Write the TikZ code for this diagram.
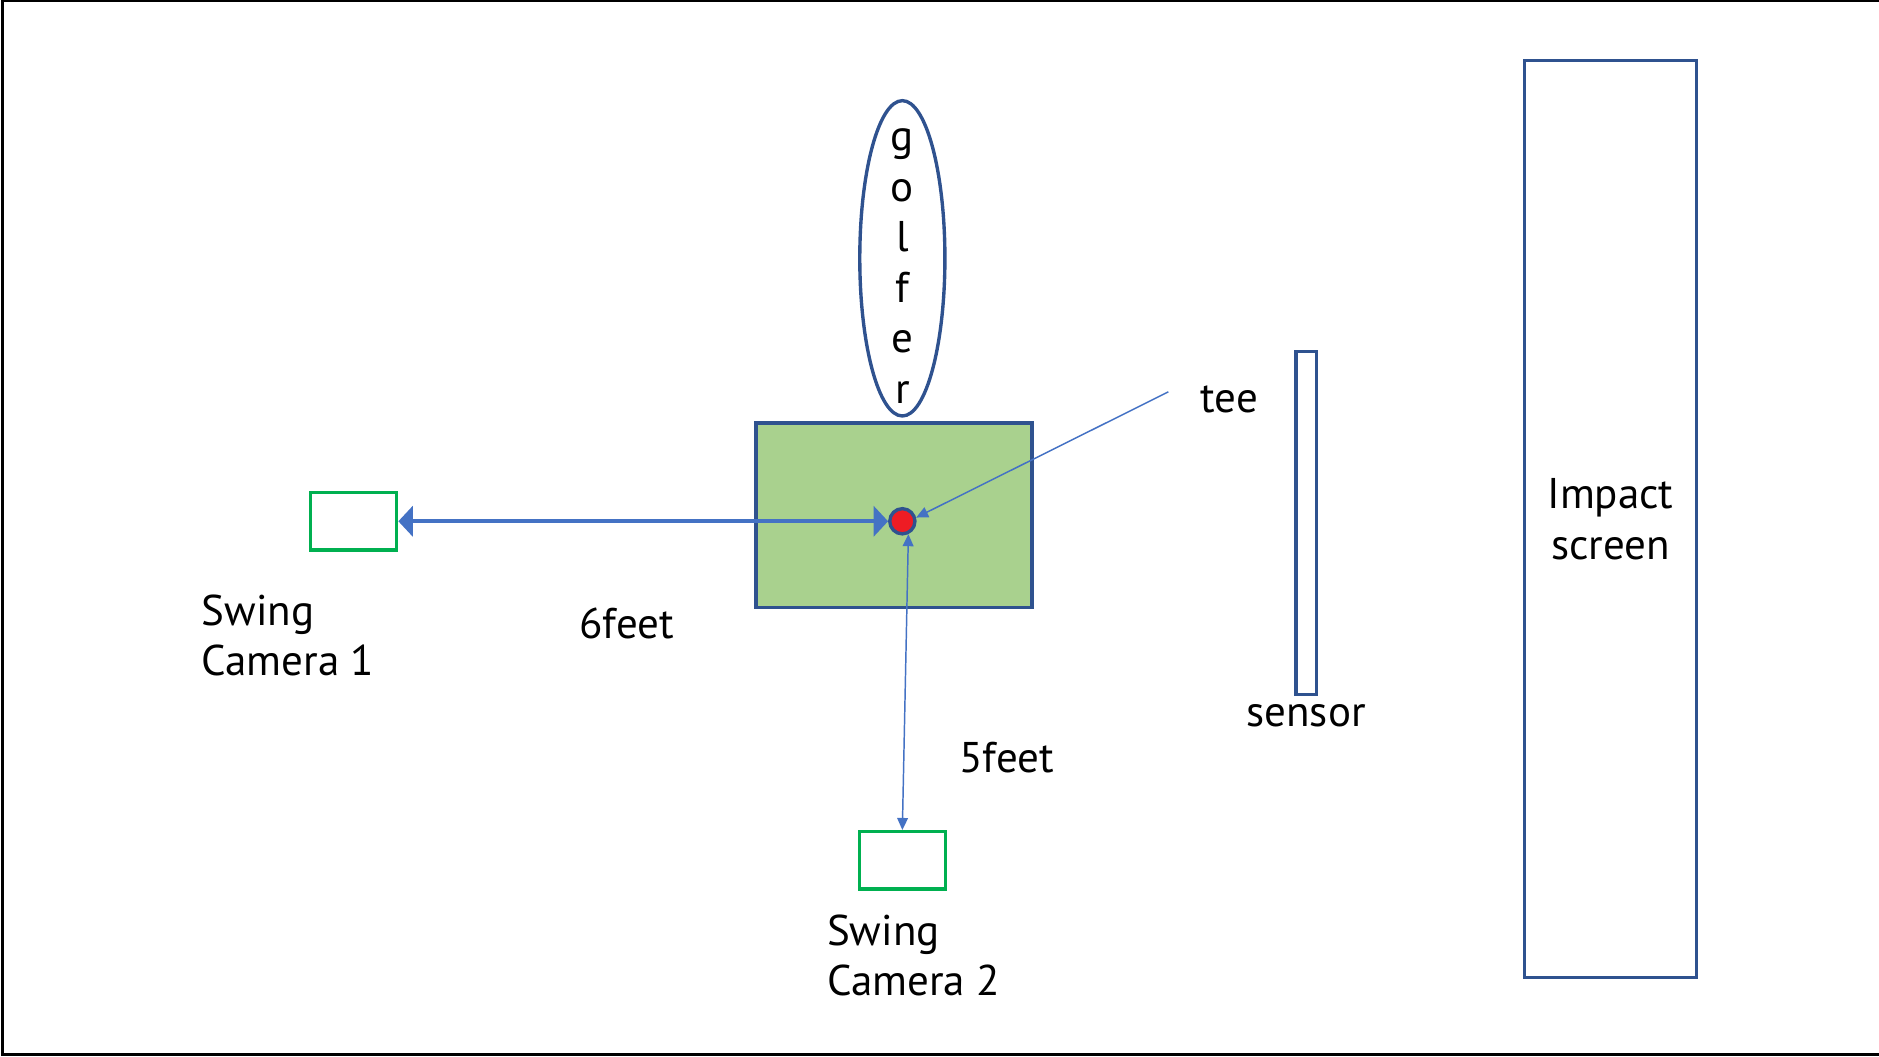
\documentclass[tikz,border=0pt]{standalone}
\usepackage{fontspec}
\setmainfont{PT Sans}
\usetikzlibrary{positioning, shapes.geometric, arrows.meta}

\definecolor{edgeblue}{HTML}{2F528F}
\definecolor{arrowblue}{HTML}{4472C4}
\definecolor{matgreen}{HTML}{A9D18E}
\definecolor{camgreen}{HTML}{00B050}
\definecolor{balred}{HTML}{EE1C24}

\begin{document}
\begin{tikzpicture}[
        x=0.01cm, y=-0.01cm,
        every node/.style={font=\fontsize{10.2}{12}\selectfont, inner sep=0},
        golfer/.style={draw=edgeblue, thick, ellipse, minimum width=0.71cm, minimum height=2.63cm},
        mat/.style={draw=edgeblue, thick, fill=matgreen, minimum width=2.3cm, minimum height=1.54cm},
        ball/.style={draw=edgeblue, thick, fill=balred, circle, minimum size=0.21cm},
        cam/.style={draw=camgreen, thick, minimum width=0.72cm, minimum height=0.48cm},
        bar/.style={draw=edgeblue, thick, minimum width=#1, anchor=north west},
        lbl/.style={align=left},
        wide/.style={arrowblue, line width=0.9pt, {Triangle[width=0.25cm, length=0.12cm]}-{Triangle[width=0.25cm, length=0.12cm]}},
        thin/.style={arrowblue, line width=0.35pt, {Triangle[width=0.09cm, length=0.1cm]}-{Triangle[width=0.09cm, length=0.1cm]}},
        link/.style={arrowblue, line width=0.35pt, -{Triangle[width=0.09cm, length=0.1cm]}}
    ]

    \useasboundingbox (0,0) rectangle (1568,882);
    \draw[line width=0.6pt] (1568,1) -- (2,1) -- (2,880) -- (1568,880);

    % Tee area
    \node[mat] (mat) at (746,430) {};
    \node[golfer, above=0.03cm of mat, xshift=0.07cm] (golfer) {};
    \node[align=center, below=0.065cm of golfer.center, anchor=center] (golfertxt) {g\\o\\l\\f\\e\\r};
    \node[ball] (ball) at (753,435) {};

    % Cameras
    \node[cam] (cam1) at (295,435) {};
    \node[cam] (cam2) at (753,718) {};
    \node[lbl, below=0.35cm of cam1.south west, anchor=north west, xshift=-0.9cm] (cam1lbl) {Swing\\Camera 1};
    \node[lbl, below=0.19cm of cam2.south west, anchor=north west, xshift=-0.26cm] (cam2lbl) {Swing\\Camera 2};

    % Sensor and screen
    \node[bar=0.17cm, minimum height=2.86cm] (sensor) at (1080,292) {};
    \node[below=0.06cm of sensor] (sensorlbl) {sensor};
    \node[bar=1.43cm, minimum height=7.65cm, align=center] (screen) at (1271,49) {Impact\\screen};

    % Labels
    \node (tee) at (1026,333) {tee};
    \coordinate (teeend) at (975,327);
    \node (six) at (523,520) {6feet};
    \node (five) at (840,632) {5feet};

    % Distances
    \draw[wide] (cam1.east) -- (ball.west);
    \draw[thin] (cam2.north) -- (ball.-65);
    \draw[link] (teeend) -- (ball.15);

\end{tikzpicture}
\end{document}
